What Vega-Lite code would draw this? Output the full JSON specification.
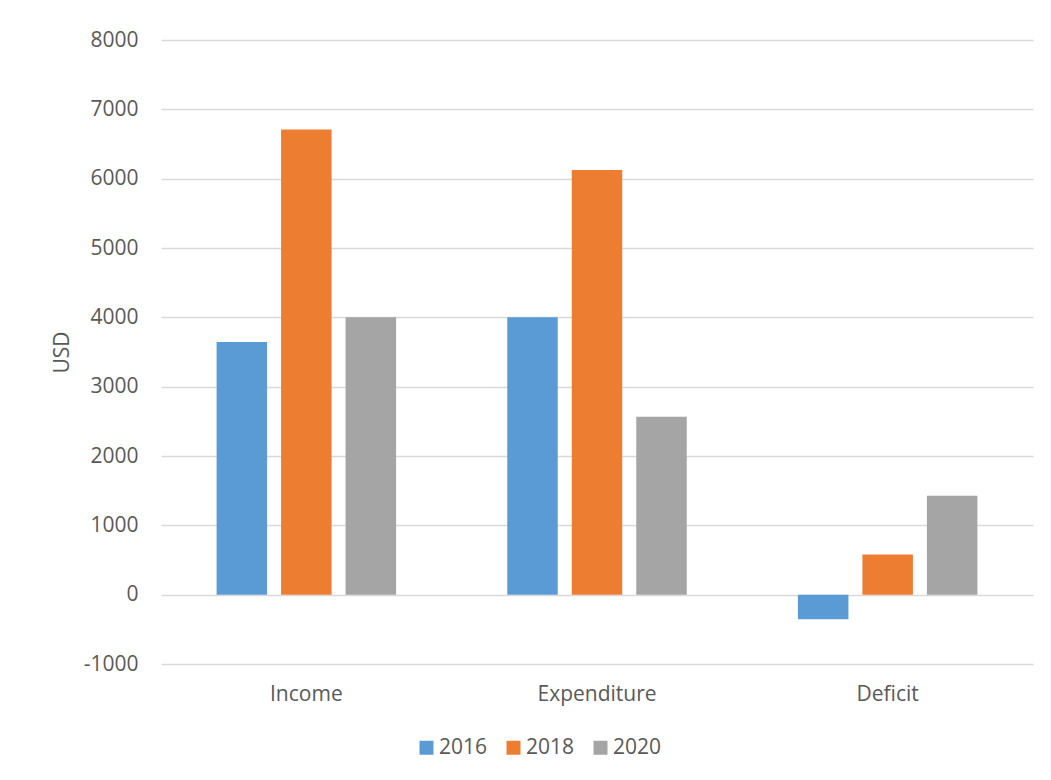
{
  "$schema": "https://vega.github.io/schema/vega-lite/v6.json",
  "width": 872,
  "height": 624,
  "autosize": {"type": "none"},
  "padding": {"left": 161, "top": 40, "right": 18, "bottom": 116},
  "background": "white",
  "data": {
    "values": [
      {"category": "Income", "year": "2016", "value": 3645},
      {"category": "Income", "year": "2018", "value": 6710},
      {"category": "Income", "year": "2020", "value": 4000},
      {"category": "Expenditure", "year": "2016", "value": 4000},
      {"category": "Expenditure", "year": "2018", "value": 6125},
      {"category": "Expenditure", "year": "2020", "value": 2565},
      {"category": "Deficit", "year": "2016", "value": -355},
      {"category": "Deficit", "year": "2018", "value": 580},
      {"category": "Deficit", "year": "2020", "value": 1425}
    ]
  },
  "mark": {"type": "bar"},
  "encoding": {
    "x": {
      "field": "category",
      "type": "nominal",
      "sort": ["Income", "Expenditure", "Deficit"],
      "scale": {"paddingInner": 0, "paddingOuter": 0},
      "axis": {
        "title": null,
        "labelAngle": 0,
        "ticks": false,
        "domain": false,
        "labelPadding": 19,
        "labelFontSize": 21,
        "labelColor": "#595959",
        "labelFont": "Open Sans"
      }
    },
    "xOffset": {
      "field": "year",
      "type": "nominal",
      "scale": {"paddingInner": 0.217, "paddingOuter": 0.862}
    },
    "y": {
      "field": "value",
      "type": "quantitative",
      "scale": {"domain": [-1000, 8000], "nice": false, "zero": true},
      "axis": {
        "title": "USD",
        "values": [-1000, 0, 1000, 2000, 3000, 4000, 5000, 6000, 7000, 8000],
        "labelExpr": "'' + datum.value",
        "ticks": false,
        "domain": false,
        "labelPadding": 23,
        "labelFontSize": 21,
        "labelColor": "#595959",
        "labelFont": "Open Sans",
        "gridColor": "#d9d9d9",
        "gridWidth": 1.5,
        "titleFont": "Open Sans",
        "titleFontSize": 21,
        "titleFontWeight": "normal",
        "titleColor": "#595959",
        "titleX": -93,
        "titleY": 312,
        "titleAngle": -90,
        "titleAlign": "center",
        "titleBaseline": "alphabetic"
      }
    },
    "color": {
      "field": "year",
      "type": "nominal",
      "scale": {"domain": ["2016", "2018", "2020"], "range": ["#5B9BD5", "#ED7D31", "#A5A5A5"]},
      "legend": {
        "title": null,
        "orient": "none",
        "direction": "horizontal",
        "legendX": 255,
        "legendY": 697,
        "symbolType": "square",
        "symbolSize": 196,
        "symbolStrokeWidth": 0,
        "symbolOpacity": 1,
        "labelFontSize": 21,
        "labelColor": "#595959",
        "labelFont": "Open Sans",
        "labelOffset": 2,
        "columnPadding": 15
      }
    }
  },
  "config": {
    "view": {"stroke": null}
  }
}
